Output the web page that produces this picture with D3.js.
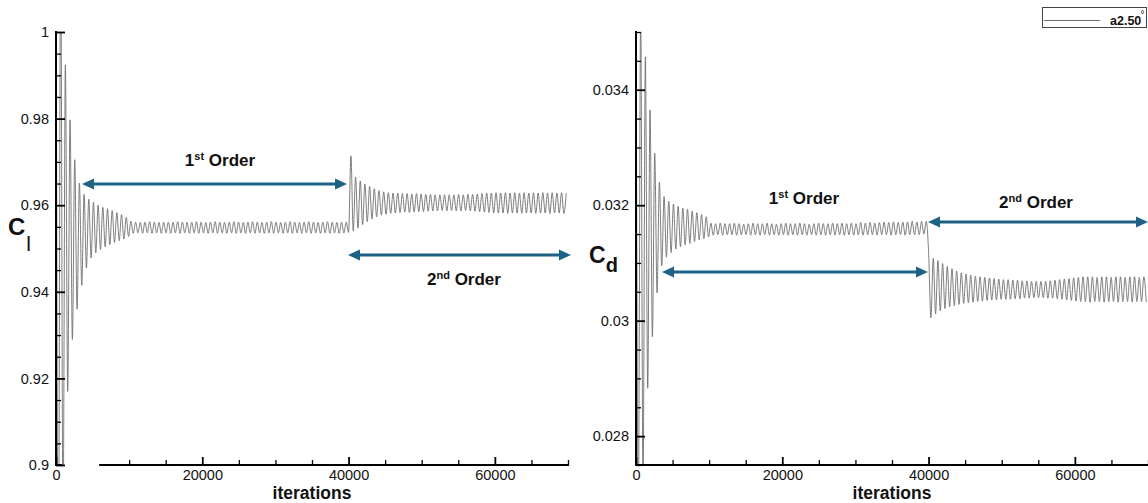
<!DOCTYPE html>
<html><head><meta charset="utf-8">
<script src="https://cdn.jsdelivr.net/npm/d3@7"></script>
<style>
html,body{margin:0;padding:0;background:#fff;}
svg{display:block;font-family:"Liberation Sans",Arial,Helvetica,sans-serif;}
</style></head><body>
<svg id="chart" width="1148" height="503"></svg>
<script>
// ---------------- data ----------------
const iterStep = 320; // iterations between samples
const clValues = [
1.03,0.87,1.02,0.885,0.9924,0.917,0.9797,0.929,0.9705,0.936,
0.9651,0.9415,0.9625,0.9455,0.9614,0.9478,0.9607,0.949,0.96,0.9498,
0.9595,0.9504,0.9592,0.9509,0.9588,0.9514,0.9583,0.9518,0.9578,0.9522,
0.9572,0.9528,0.9563,0.9535,0.9561,0.9536,0.956,0.9535,0.9561,0.9536,
0.9562,0.9535,0.9561,0.9536,0.956,0.9535,0.9561,0.9536,0.9561,0.9535,
0.956,0.9536,0.9562,0.9535,0.9561,0.9536,0.956,0.9535,0.9561,0.9536,
0.9562,0.9535,0.9561,0.9536,0.956,0.9535,0.9561,0.9536,0.9562,0.9535,
0.9561,0.9536,0.956,0.9535,0.9561,0.9536,0.9562,0.9535,0.9561,0.9536,
0.956,0.9535,0.9561,0.9536,0.9562,0.9535,0.9561,0.9536,0.956,0.9535,
0.9561,0.9536,0.9562,0.9535,0.9561,0.9536,0.956,0.9535,0.9561,0.9536,
0.9562,0.9535,0.9561,0.9536,0.956,0.9535,0.9561,0.9536,0.9562,0.9535,
0.9561,0.9536,0.956,0.9535,0.9561,0.9536,0.9562,0.9535,0.9561,0.9536,
0.956,0.9535,0.9561,0.9536,0.9561,0.9537,0.9714,0.954,0.9665,0.9547,
0.9656,0.9555,0.9649,0.9562,0.9643,0.9568,0.9638,0.9573,0.9634,0.9577,
0.9631,0.9579,0.9629,0.9581,0.9628,0.9582,0.9628,0.9583,0.9627,0.9584,
0.9627,0.9583,0.9626,0.9584,0.9627,0.9585,0.9626,0.9585,0.9625,0.9586,
0.9625,0.9587,0.9624,0.9587,0.9624,0.9588,0.9624,0.9587,0.9624,0.9588,
0.9624,0.9587,0.9625,0.9587,0.9624,0.9588,0.9625,0.9587,0.9625,0.9586,
0.9626,0.9585,0.9627,0.9584,0.9628,0.9583,0.9628,0.9582,0.9629,0.9582,
0.9628,0.9582,0.9629,0.9581,0.9628,0.9582,0.9629,0.9582,0.9628,0.9581,
0.9629,0.9582,0.9628,0.9582,0.9629,0.9581,0.9628,0.9582,0.9629,0.9582,
0.9628,0.9581,0.9629,0.9582,0.9628,0.9582,0.9629,0.9581,0.9628
];
const cdValues = [
0.0356,0.0268,0.0354,0.0271,0.03457,0.02883,0.03365,0.02972,0.0329,0.03048,
0.0324,0.03095,0.03215,0.0311,0.03207,0.03118,0.03202,0.03124,0.03198,0.03128,
0.03195,0.03131,0.03193,0.03134,0.0319,0.03137,0.03187,0.0314,0.03184,0.03142,
0.0318,0.03145,0.03169,0.03148,0.03168,0.03149,0.03169,0.03148,0.03168,0.03149,
0.03168,0.03149,0.03169,0.03148,0.03168,0.03149,0.03167,0.03149,0.03168,0.03148,
0.03169,0.03149,0.03168,0.03148,0.03168,0.03149,0.03169,0.03148,0.03168,0.03149,
0.03167,0.03148,0.03168,0.03149,0.03169,0.03148,0.03168,0.03149,0.03168,0.03148,
0.03169,0.03149,0.03168,0.03148,0.03167,0.03149,0.03168,0.03148,0.03169,0.03149,
0.03168,0.03148,0.03168,0.03149,0.03169,0.03148,0.03168,0.03149,0.03169,0.03148,
0.03168,0.03149,0.03169,0.03148,0.03168,0.03149,0.0317,0.03148,0.03169,0.03149,
0.0317,0.03149,0.03169,0.03148,0.0317,0.03149,0.03171,0.03149,0.0317,0.03148,
0.03171,0.03149,0.0317,0.03149,0.03171,0.03148,0.03171,0.03149,0.03172,0.03149,
0.03171,0.03149,0.03172,0.0315,0.03172,0.0312,0.03005,0.03108,0.03012,0.03104,
0.03017,0.03099,0.03021,0.03094,0.03024,0.0309,0.03026,0.03086,0.03028,0.03083,
0.0303,0.03081,0.03031,0.03079,0.03032,0.03077,0.03033,0.03076,0.03034,0.03075,
0.03035,0.03074,0.03036,0.03073,0.03036,0.03072,0.03037,0.03071,0.03037,0.03071,
0.03037,0.0307,0.03038,0.0307,0.03038,0.03069,0.03039,0.03069,0.03039,0.03068,
0.0304,0.03068,0.0304,0.03068,0.0304,0.03068,0.03039,0.03069,0.03039,0.0307,
0.03038,0.03071,0.03037,0.03072,0.03036,0.03073,0.03035,0.03074,0.03034,0.03075,
0.03033,0.03076,0.03033,0.03076,0.03032,0.03076,0.03033,0.03075,0.03033,0.03076,
0.03032,0.03076,0.03033,0.03075,0.03033,0.03076,0.03032,0.03076,0.03033,0.03075,
0.03033,0.03076,0.03032,0.03076,0.03033,0.03075,0.03033,0.03076,0.03032
];

const xDomain = [0, 70000];
const xMajorTicks = [0, 20000, 40000, 60000];
const xTickLabels = ["0", "20000", "40000", "60000"];
const xMinorStep = 5000;

const clDomain = [0.9, 1];
const clMajorTicks = [0.9, 0.92, 0.94, 0.96, 0.98, 1];
const clTickLabels = ["0.9", "0.92", "0.94", "0.96", "0.98", "1"];
const clMinorStep = 0.005;

const cdDomain = [0.0275, 0.035];
const cdMajorTicks = [0.028, 0.03, 0.032, 0.034];
const cdTickLabels = ["0.028", "0.03", "0.032", "0.034"];
const cdMinorStep = 0.0005;

const leftAxisBreak = [800, 5900]; // the left x-axis line is interrupted here

// annotation arrows (iterations, value)
const clArrowFrom = [3555, 39920];
const clArrowTo = [39790, 70400];
const clArrowAt = [0.9649, 0.9485];
const clNoteIter = [22420, 55780];
const clNoteAt = [0.96905, 0.94157];
const noteOrd = ["1", "2"];
const noteSup = ["st", "nd"];

const cdArrowFrom = [3555, 39920];
const cdArrowTo = [39920, 70000];
const cdArrowAt = [0.030843, 0.031709];
const cdNoteIter = [22970, 54690];
const cdNoteAt = [0.032021, 0.031952];
const cdNoteOrd = ["1", "2"];

const legendLabel = "a2.50";

// ---------------- drawing ----------------
const svg = d3.select("#chart");
const lineColor = "#6f6f6f";
const arrowColor = "#1d6184";

function minorTicks(domain, step) {
  const out = [];
  const n = Math.round((domain[1] - domain[0]) / step);
  for (let k = 0; k <= n; k++) out.push(+(domain[0] + k * step).toFixed(6));
  return out;
}

function panel(opts) {
  const x = d3.scaleLinear().domain(xDomain).range(opts.xr);
  const y = d3.scaleLinear().domain(opts.yDomain).range([465, 32]);
  const g = svg.append("g");
  const clipId = "clip" + opts.id;
  svg.append("clipPath").attr("id", clipId).append("rect")
    .attr("x", opts.xr[0]).attr("y", 32)
    .attr("width", opts.xr[1] - opts.xr[0]).attr("height", 433);

  // series line
  const pts = opts.values.map((v, i) => [i * iterStep, v]);
  g.append("path").datum(pts)
    .attr("clip-path", `url(#${clipId})`)
    .attr("fill", "none").attr("stroke", lineColor).attr("stroke-width", 0.9)
    .attr("d", d3.line().x(d => x(d[0])).y(d => y(d[1])).curve(d3.curveMonotoneX));

  // y axis (inward ticks)
  const yMajSet = new Set(opts.yMajor.map(v => v.toFixed(6)));
  const yMinor = minorTicks(opts.yDomain, opts.yMinorStep).filter(v => !yMajSet.has(v.toFixed(6)));
  g.append("g").attr("transform", `translate(${opts.xr[0]},0)`)
    .call(d3.axisLeft(y).tickValues(yMinor).tickSizeInner(-5).tickSizeOuter(0).tickFormat(""))
    .call(a => a.select(".domain").remove())
    .call(a => a.selectAll("line").attr("stroke", "#000").attr("stroke-width", 1.3));
  g.append("g").attr("transform", `translate(${opts.xr[0]},0)`)
    .call(d3.axisLeft(y).tickValues(opts.yMajor).tickSizeInner(-9).tickSizeOuter(0).tickPadding(7)
      .tickFormat((d, i) => opts.yLabels[i]))
    .call(a => a.select(".domain").remove())
    .call(a => a.selectAll("line").attr("stroke", "#000").attr("stroke-width", 1.8))
    .call(a => a.selectAll("text").attr("font-size", 14.5).attr("fill", "#111")
      .attr("font-family", '"Liberation Sans",Arial,sans-serif'));

  // x axis
  const xMajSet = new Set(xMajorTicks);
  const xMinor = minorTicks(xDomain, xMinorStep).filter(v => !xMajSet.has(v))
    .filter(v => !opts.xBreak || v < opts.xBreak[0] || v > opts.xBreak[1]);
  g.append("g").attr("transform", `translate(0,465)`)
    .call(d3.axisBottom(x).tickValues(xMinor).tickSizeInner(-5).tickSizeOuter(0).tickFormat(""))
    .call(a => a.select(".domain").remove())
    .call(a => a.selectAll("line").attr("stroke", "#000").attr("stroke-width", 1.3));
  g.append("g").attr("transform", `translate(0,465)`)
    .call(d3.axisBottom(x).tickValues(xMajorTicks).tickSizeInner(-8).tickSizeOuter(0).tickPadding(5)
      .tickFormat((d, i) => xTickLabels[i]))
    .call(a => a.select(".domain").remove())
    .call(a => a.selectAll("line").attr("stroke", "#000").attr("stroke-width", 1.8))
    .call(a => a.selectAll("text").attr("font-size", 14.5).attr("fill", "#111")
      .attr("font-family", '"Liberation Sans",Arial,sans-serif'));

  // axis lines
  g.append("line").attr("x1", opts.xr[0]).attr("x2", opts.xr[0]).attr("y1", 31).attr("y2", 466)
    .attr("stroke", "#000").attr("stroke-width", 2);
  if (opts.xBreak) {
    g.append("line").attr("x1", opts.xr[0] - 1).attr("x2", x(opts.xBreak[0])).attr("y1", 465).attr("y2", 465)
      .attr("stroke", "#000").attr("stroke-width", 2);
    g.append("line").attr("x1", x(opts.xBreak[1])).attr("x2", opts.xr[1] + 1).attr("y1", 465).attr("y2", 465)
      .attr("stroke", "#000").attr("stroke-width", 2);
  } else {
    g.append("line").attr("x1", opts.xr[0] - 1).attr("x2", opts.xr[1] + 1).attr("y1", 465).attr("y2", 465)
      .attr("stroke", "#000").attr("stroke-width", 2);
  }

  // x axis title
  g.append("text").attr("x", (opts.xr[0] + opts.xr[1]) / 2).attr("y", 499)
    .attr("text-anchor", "middle").attr("font-size", 17.5).attr("font-weight", "bold")
    .attr("fill", "#111").text("iterations");

  // arrows
  const head = 12, hw = 5.5;
  opts.arrows.forEach(a => {
    const x1 = x(a.from), x2 = x(a.to), yy = y(a.at);
    g.append("line").attr("x1", x1 + head - 1).attr("x2", x2 - head + 1).attr("y1", yy).attr("y2", yy)
      .attr("stroke", arrowColor).attr("stroke-width", 3);
    g.append("path").attr("fill", arrowColor)
      .attr("d", `M${x1},${yy}L${x1 + head},${yy - hw}L${x1 + head},${yy + hw}Z`);
    g.append("path").attr("fill", arrowColor)
      .attr("d", `M${x2},${yy}L${x2 - head},${yy - hw}L${x2 - head},${yy + hw}Z`);
  });

  // notes
  opts.notes.forEach(n => {
    const t = g.append("text").attr("x", x(n.iter)).attr("y", y(n.at))
      .attr("text-anchor", "middle").attr("font-weight", "bold").attr("font-size", 17).attr("fill", "#111");
    t.append("tspan").text(n.ord);
    t.append("tspan").attr("font-size", 11).attr("dy", -6).text(n.sup);
    t.append("tspan").attr("dy", 6).text(" Order");
  });
  return {x, y, g};
}

panel({
  id: "L", xr: [56, 568], yDomain: clDomain, values: clValues,
  yMajor: clMajorTicks, yLabels: clTickLabels, yMinorStep: clMinorStep,
  xBreak: leftAxisBreak,
  arrows: clArrowFrom.map((f, i) => ({from: f, to: clArrowTo[i], at: clArrowAt[i]})),
  notes: clNoteIter.map((it, i) => ({iter: it, at: clNoteAt[i], ord: noteOrd[i], sup: noteSup[i]}))
});
panel({
  id: "R", xr: [636, 1148], yDomain: cdDomain, values: cdValues,
  yMajor: cdMajorTicks, yLabels: cdTickLabels, yMinorStep: cdMinorStep,
  xBreak: null,
  arrows: cdArrowFrom.map((f, i) => ({from: f, to: cdArrowTo[i], at: cdArrowAt[i]})),
  notes: cdNoteIter.map((it, i) => ({iter: it, at: cdNoteAt[i], ord: cdNoteOrd[i], sup: noteSup[i]}))
});

// y titles
const tl = svg.append("text").attr("x", 8).attr("y", 235).attr("fill", "#111");
tl.append("tspan").attr("font-size", 24).attr("font-weight", "bold").text("C");
tl.append("tspan").attr("font-size", 21).attr("dy", 16).attr("dx", 1).text("l");
const tr = svg.append("text").attr("x", 589).attr("y", 263).attr("fill", "#111");
tr.append("tspan").attr("font-size", 23).attr("font-weight", "bold").text("C");
tr.append("tspan").attr("font-size", 20).attr("font-weight", "bold").attr("dy", 9).text("d");

// legend
const lg = svg.append("g");
lg.append("rect").attr("x", 1042.5).attr("y", 7.5).attr("width", 104).attr("height", 20)
  .attr("fill", "#fff").attr("stroke", "#444").attr("stroke-width", 1);
lg.append("line").attr("x1", 1044).attr("x2", 1100).attr("y1", 20.5).attr("y2", 20.5)
  .attr("stroke", lineColor).attr("stroke-width", 1);
lg.append("text").attr("x", 1110).attr("y", 25).attr("font-size", 12.5).attr("font-weight", "bold")
  .attr("fill", "#111").text(legendLabel);
lg.append("text").attr("x", 1140.5).attr("y", 18).attr("font-size", 10).attr("fill", "#111").text("°");
</script>
</body></html>
